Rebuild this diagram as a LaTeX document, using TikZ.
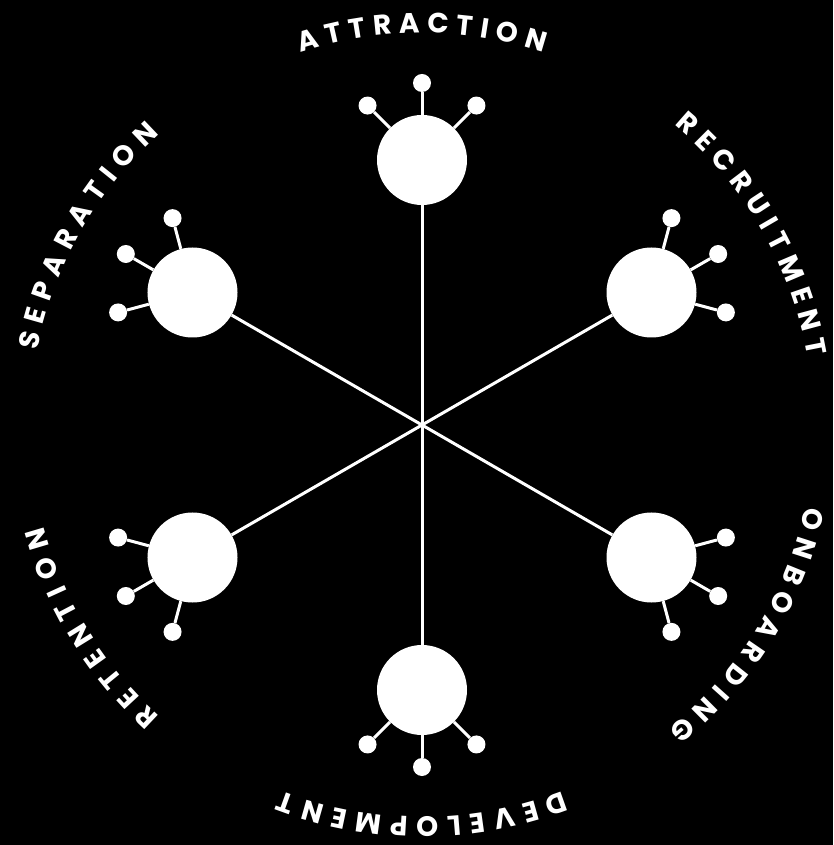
\documentclass[tikz,border=0pt]{standalone}
\usepackage{fontspec}
\newfontfamily\ringfont{Poppins}
\newcommand\ringstyle{\ringfont\bfseries\fontsize{28pt}{28pt}\selectfont}
\usetikzlibrary{decorations.text}
\tikzset{
  hub/.style = {circle, fill=white, minimum size=90pt, inner sep=0pt},
  bud/.style = {circle, fill=white, minimum size=18pt, inner sep=0pt},
  spoke/.style = {draw=white, line width=3pt},
  stalk/.style = {draw=white, line width=3pt},
  ringtext/.style = {decorate, decoration={text along path, text align={fit to path}, text color=white, text={|\ringstyle|#1}}}
}

\begin{document}
\begin{tikzpicture}[x=1pt, y=1pt]

% Canvas
\useasboundingbox (-422,-420) rectangle (411,425);
\fill[black] (-422,-420) rectangle (411,425);

\coordinate (c) at (0,0);

% Hubs, spokes and buds
\foreach \name/\ang in {att/90, rec/30, onb/-30, dev/-90, ret/-150, sep/150} {
  \node[hub] (\name) at (\ang:265) {};
  \draw[spoke] (c) -- (\name);
  \foreach \d [count=\i] in {-45,0,45} {
    \node[bud] (\name-\i) at ([shift={(\ang+\d:77)}]\name.center) {};
    \draw[stalk] (\name) -- (\name-\i);
  }
}

% Labels round the ring
\path[ringtext=ATTRACTION] (108:392) arc[start angle=108, end angle=72, radius=392pt];
\path[ringtext=RECRUITMENT] (50:392) arc[start angle=50, end angle=10, radius=392pt];
\path[ringtext=ONBOARDING] (-12:392) arc[start angle=-12, end angle=-51, radius=392pt];
\path[ringtext=DEVELOPMENT] (-69:392) arc[start angle=-69, end angle=-111, radius=392pt];
\path[ringtext=RETENTION] (-132:392) arc[start angle=-132, end angle=-165, radius=392pt];
\path[ringtext=SEPARATION] (169:392) arc[start angle=169, end angle=132, radius=392pt];

\end{tikzpicture}
\end{document}
